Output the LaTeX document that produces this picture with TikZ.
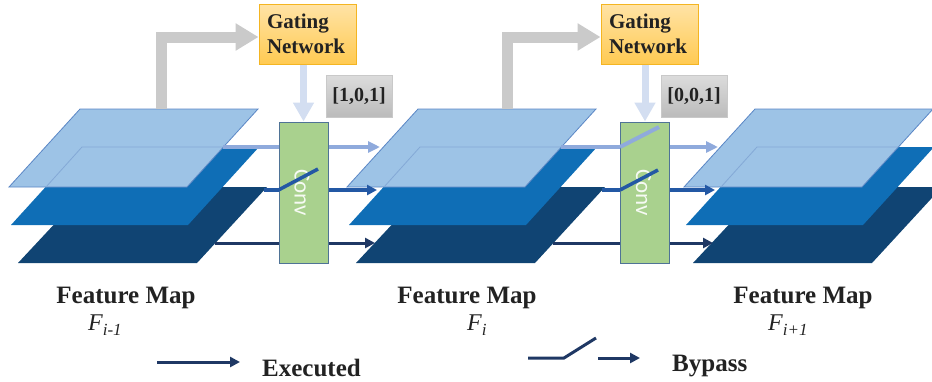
\documentclass[tikz,border=0pt]{standalone}
\usepackage{fontspec}
\setmainfont{Liberation Serif}
\newfontfamily\convfont{Carlito}
\usetikzlibrary{arrows.meta}

\definecolor{layerLight}{HTML}{9DC3E6}
\definecolor{layerLightEdge}{HTML}{5A86C5}
\definecolor{layerFaint}{HTML}{84A9D6}
\definecolor{layerMid}{HTML}{0F6EB6}
\definecolor{layerDark}{HTML}{104473}
\definecolor{flowLight}{HTML}{8FAADC}
\definecolor{flowMid}{HTML}{2358A4}
\definecolor{flowDark}{HTML}{1F3864}
\definecolor{convFill}{HTML}{A9D18E}
\definecolor{convEdge}{HTML}{4F7396}
\definecolor{gateTop}{HTML}{FFE3A6}
\definecolor{gateBot}{HTML}{FFCA52}
\definecolor{gateEdge}{HTML}{F4B522}
\definecolor{maskTop}{HTML}{DCDCDC}
\definecolor{maskBot}{HTML}{BBBBBB}
\definecolor{feedGray}{HTML}{CACACA}
\definecolor{ctrlBlue}{HTML}{D3DEF1}
\definecolor{ink}{HTML}{222222}

% three stacked channel planes of one feature map
\newcommand\featureplanes{%
  \fill[layerDark] (18,263) -- (197,263) -- (267,187) -- (89,187) -- cycle;
  \fill[layerMid] (11,225) -- (188,225) -- (259,147) -- (82,147) -- cycle;
  \filldraw[fill=layerLight, draw=layerLightEdge, line width=0.8pt]
    (9,187) -- (187,187) -- (258,109) -- (80,109) -- cycle;
  \draw[layerFaint, line width=0.8pt] (46,187) -- (82,147) -- (223,147);
}

\newcommand\fsym[1]{{\fontsize{24}{24}\selectfont\itshape F\raisebox{-5pt}{\fontsize{17}{17}\selectfont #1}}}

\tikzset{
  convbox/.style={draw=convEdge, fill=convFill, line width=1pt,
    minimum width=49pt, minimum height=141pt, inner sep=0pt},
  convlabel/.style={text=white, text opacity=0.9, rotate=-90,
    font=\convfont\fontsize{23}{23}\selectfont, inner sep=0pt},
  gatebox/.style={draw=gateEdge, line width=1pt, top color=gateTop, bottom color=gateBot,
    minimum width=97pt, minimum height=60pt, text width=81pt, inner xsep=8pt,
    align=left, text=ink, font=\fontsize{21}{25}\selectfont\bfseries},
  maskbox/.style={draw=maskBot!80!white, line width=0.6pt, top color=maskTop, bottom color=maskBot,
    minimum width=66pt, minimum height=42pt, inner sep=0pt, text=ink,
    font=\fontsize{20}{20}\selectfont\bfseries},
  feed/.style={feedGray, line width=11pt, line join=miter,
    -{Triangle[length=23pt,width=26pt]}},
  ctrl/.style={ctrlBlue, line width=7pt, -{Triangle[length=19pt,width=20pt]}},
  lineL/.style={flowLight, line width=4pt},
  lineM/.style={flowMid, line width=3.5pt},
  lineD/.style={flowDark, line width=3pt},
  tipL/.style={-{Triangle[length=12pt,width=11pt]}},
  tipS/.style={-{Triangle[length=10pt,width=10pt]}},
  maptitle/.style={anchor=base, text=ink, font=\fontsize{25}{25}\selectfont\bfseries, inner sep=0pt},
  mapsym/.style={anchor=base west, text=ink, inner sep=0pt},
  legendtext/.style={anchor=base west, text=ink, font=\fontsize{25}{25}\selectfont\bfseries, inner sep=0pt},
}

\begin{document}
\begin{tikzpicture}[x=1pt, y=-1pt]
\useasboundingbox (0,0) rectangle (932,381);
\clip (0,0) rectangle (932,381);

% feature maps F_{i-1}, F_i, F_{i+1}
\featureplanes
\begin{scope}[shift={(338,0)}]\featureplanes\end{scope}
\begin{scope}[shift={(675,0)}]\featureplanes\end{scope}

% gated convolution blocks
\node[convbox] (conv1) at (303.5,192.5) {};
\node[convbox] (conv2) at (645,192.5) {};
\node[convlabel] (conv1txt) at (302,192.5) {Conv};
\node[convlabel] (conv2txt) at (643.5,192.5) {Conv};

% gating networks and their channel masks
\node[gatebox] (gate1) at (307.5,34) {Gating\\Network};
\node[gatebox] (gate2) at (649.5,34) {Gating\\Network};
\node[maskbox] (mask1) at (359,96) {[1,0,1]};
\node[maskbox] (mask2) at (694,96) {[0,0,1]};

% feature map fed to each gating network
\coordinate (feed1) at (161,109);
\coordinate (feed2) at (507,109);
\draw[feed] (feed1) |- ([yshift=-3pt]gate1.west);
\draw[feed] (feed2) |- ([yshift=-3pt]gate2.west);

% gate decisions into the convolutions
\draw[ctrl] (conv1.north |- gate1.south) -- (conv1.north);
\draw[ctrl] (conv2.north |- gate2.south) -- (conv2.north);

% channel flows F_{i-1} -> F_i
\coordinate (l1) at (223,147); \coordinate (m1) at (264,190); \coordinate (d1) at (215,243);
\coordinate (lt1) at (380,147); \coordinate (mt1) at (377,190); \coordinate (dt1) at (375,243);
\draw[lineL] (l1) -- (l1 -| conv1.west);
\draw[lineM] (m1) -- (m1 -| conv1.west);
\draw[lineD] (d1) -- (d1 -| conv1.west);
\draw[lineL, tipL] (conv1.east |- lt1) -- (lt1);
\draw[lineM, tipS] (conv1.east |- mt1) -- (mt1);
\draw[lineD, tipS] (conv1.east |- dt1) -- (dt1);
\coordinate (sw1m) at (318,169);
\draw[lineM] (m1 -| conv1.west) -- (sw1m);

% channel flows F_i -> F_{i+1}
\coordinate (l2) at (561,147); \coordinate (m2) at (602,190); \coordinate (d2) at (553,243);
\coordinate (lt2) at (718,147); \coordinate (mt2) at (715,190); \coordinate (dt2) at (713,243);
\draw[lineL] (l2) -- (l2 -| conv2.west);
\draw[lineM] (m2) -- (m2 -| conv2.west);
\draw[lineD] (d2) -- (d2 -| conv2.west);
\draw[lineL, tipL] (conv2.east |- lt2) -- (lt2);
\draw[lineM, tipS] (conv2.east |- mt2) -- (mt2);
\draw[lineD, tipS] (conv2.east |- dt2) -- (dt2);
\coordinate (sw2l) at (659,127);
\coordinate (sw2m) at (658,170);
\draw[lineL] (l2 -| conv2.west) -- (sw2l);
\draw[lineM] (m2 -| conv2.west) -- (sw2m);

% map captions
\node[maptitle] (cap1) at (126,303) {Feature Map};
\node[maptitle] (cap2) at (467,303) {Feature Map};
\node[maptitle] (cap3) at (803,303) {Feature Map};
\node[mapsym] (sym1) at (88,330) {\fsym{i-1}};
\node[mapsym] (sym2) at (467,330) {\fsym{i}};
\node[mapsym] (sym3) at (768,330) {\fsym{i+1}};

% legend
\coordinate (exA) at (157,362); \coordinate (exB) at (240,362);
\draw[lineD, tipS] (exA) -- (exB);
\node[legendtext] (exTxt) at (262,376) {Executed};
\coordinate (bpA) at (528,358); \coordinate (bpB) at (564,358); \coordinate (bpC) at (596,338);
\draw[lineD] (bpA) -- (bpB) -- (bpC);
\coordinate (bpD) at (598,358); \coordinate (bpE) at (640,358);
\draw[lineD, tipS] (bpD) -- (bpE);
\node[legendtext] (bpTxt) at (672,371) {Bypass};
\end{tikzpicture}
\end{document}
